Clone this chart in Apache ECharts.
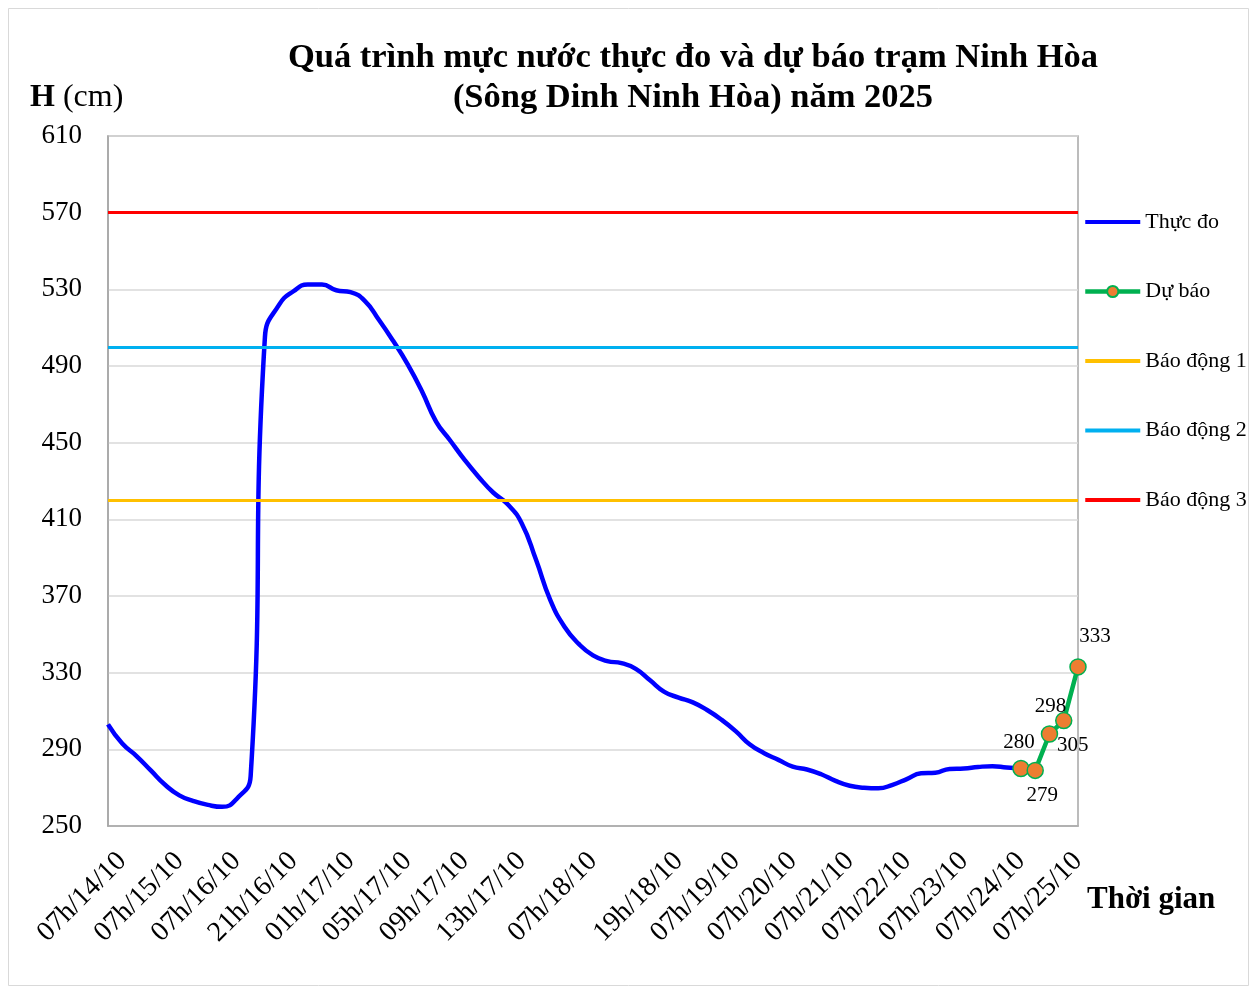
<!DOCTYPE html>
<html><head><meta charset="utf-8">
<script src="https://cdn.jsdelivr.net/npm/echarts@6/dist/echarts.min.js"></script>
<style>html,body{margin:0;padding:0;background:#fff}#c{width:1255px;height:990px}</style>
</head><body><div id="c"></div>
<script>
// ---- data ----
const tickLabels = ['07h/14/10','07h/15/10','07h/16/10','21h/16/10','01h/17/10','05h/17/10','09h/17/10','13h/17/10','07h/18/10','19h/18/10','07h/19/10','07h/20/10','07h/21/10','07h/22/10','07h/23/10','07h/24/10','07h/25/10'];
const tickIndex = [1,5,9,13,17,21,25,29,34,40,44,48,52,56,60,64,68];
const categoryCount = 69;
const observed = [303,293,286.5,279,271.5,266,263,261,260,264,276,505,522,529,532.5,532.5,529.5,528.5,524,514,
  503,491,477,461,451,441,432,424,418,408,389,368,354,345,339,336,335,332,326,320,
  317,314.5,310.5,305.5,299.5,292.5,288,284.5,281,279.5,277,273.5,271,270,269.7,271.5,274.5,277.5,277.8,279.8,
  280,280.8,281.2,280.5,280];
const forecastIndex = [64,65,66,67,68];
const forecast = [280,279,298,305,333];
const alert1 = 420, alert2 = 500, alert3 = 570;
const yMin = 250, yMax = 610, yStep = 40;

// ---- build ----
const categories = Array.from({length: categoryCount}, (_, i) => {
  const k = tickIndex.indexOf(i);
  return k >= 0 ? tickLabels[k] : '';
});
const labelPlace = [
  {position:'top', offset:[-2,-2]},
  {position:'bottom', offset:[7,1]},
  {position:'top', offset:[1,-3]},
  {position:'bottom', offset:[9,1]},
  {position:'top', offset:[17,-6]}
];
const FONT = '"Liberation Serif","Times New Roman",serif';
const forecastData = forecast.map((v, k) => ({value:[forecastIndex[k], v], label: labelPlace[k]}));
const LINE_ICON = 'path://M0,0H55V4H0Z';

function alertSeries(name, value, color) {
  return {
    name, type:'line', data:[], color, symbol:'none', z:3,
    lineStyle:{color, width:3},
    markLine:{silent:true, symbol:['none','none'], label:{show:false},
      lineStyle:{color, width:3, type:'solid'}, data:[{yAxis:value}], animation:false}
  };
}

const chart = echarts.init(document.getElementById('c'), null, {renderer:'canvas'});
chart.setOption({
  animation:false,
  backgroundColor:'#fff',
  grid:{left:108, right:177, top:136, bottom:164, show:true, borderColor:'#A6A6A6', borderWidth:1.5, containLabel:false},
  xAxis:{type:'category', data:categories, boundaryGap:false,
    axisLine:{lineStyle:{color:'#A6A6A6', width:1.5}}, axisTick:{show:false},
    axisLabel:{interval:(i)=>tickIndex.indexOf(i) >= 0, rotate:45, margin:31, color:'#000', fontSize:28, fontFamily:FONT},
    splitLine:{show:false}},
  yAxis:{type:'value', min:yMin, max:yMax, interval:yStep,
    axisLine:{show:true, lineStyle:{color:'#A6A6A6', width:1.5}}, axisTick:{show:false},
    axisLabel:{color:'#000', fontSize:27, fontFamily:FONT, margin:26},
    splitLine:{lineStyle:{color:'#D9D9D9', width:1.5}}},
  legend:{orient:'vertical', left:1083, top:210, padding:0, itemWidth:55, itemHeight:14, itemGap:45.5,
    textStyle:{color:'#000', fontSize:22, fontFamily:FONT, lineHeight:24},
    lineStyle:{width:4.5},
    data:[
      {name:'Thực đo', icon:LINE_ICON},
      {name:'Dự báo'},
      {name:'Báo động 1', icon:LINE_ICON},
      {name:'Báo động 2', icon:LINE_ICON},
      {name:'Báo động 3', icon:LINE_ICON}
    ]},
  series:[
    {name:'Thực đo', type:'line', data:observed, smooth:0.5, symbol:'none', color:'#0000FF', z:2,
      lineStyle:{color:'#0000FF', width:4.5}},
    {name:'Dự báo', type:'line', data:forecastData, symbol:'circle', symbolSize:16, showAllSymbol:true, z:4, color:'#ED7D31',
      lineStyle:{color:'#00B050', width:4.5},
      itemStyle:{color:'#ED7D31', borderColor:'#00B050', borderWidth:1.5},
      label:{show:true, color:'#000', fontSize:21, fontFamily:FONT, formatter:(p)=>p.value[1]}},
    alertSeries('Báo động 1', alert1, '#FFC000'),
    alertSeries('Báo động 2', alert2, '#00B0F0'),
    alertSeries('Báo động 3', alert3, '#FF0000')
  ],
  graphic:[
    {type:'rect', shape:{x:8.5, y:8.5, width:1240, height:977}, style:{fill:'none', stroke:'#D9D9D9', lineWidth:1}, silent:true},
    {type:'text', x:693, y:58, style:{text:'Quá trình mực nước thực đo và dự báo trạm Ninh Hòa', font:'bold 34.5px '+FONT, fill:'#000', textAlign:'center', textVerticalAlign:'middle'}},
    {type:'text', x:693, y:98, style:{text:'(Sông Dinh Ninh Hòa) năm 2025', font:'bold 34.5px '+FONT, fill:'#000', textAlign:'center', textVerticalAlign:'middle'}},
    {type:'text', x:30, y:98, style:{text:'{b|H} (cm)', font:'32px '+FONT, fill:'#000', textVerticalAlign:'middle',
      rich:{b:{fontWeight:'bold', fontSize:32, fontFamily:FONT}}}},
    {type:'text', x:1087, y:900, style:{text:'Thời gian', font:'bold 31px '+FONT, fill:'#000', textVerticalAlign:'middle'}}
  ]
});
</script></body></html>
